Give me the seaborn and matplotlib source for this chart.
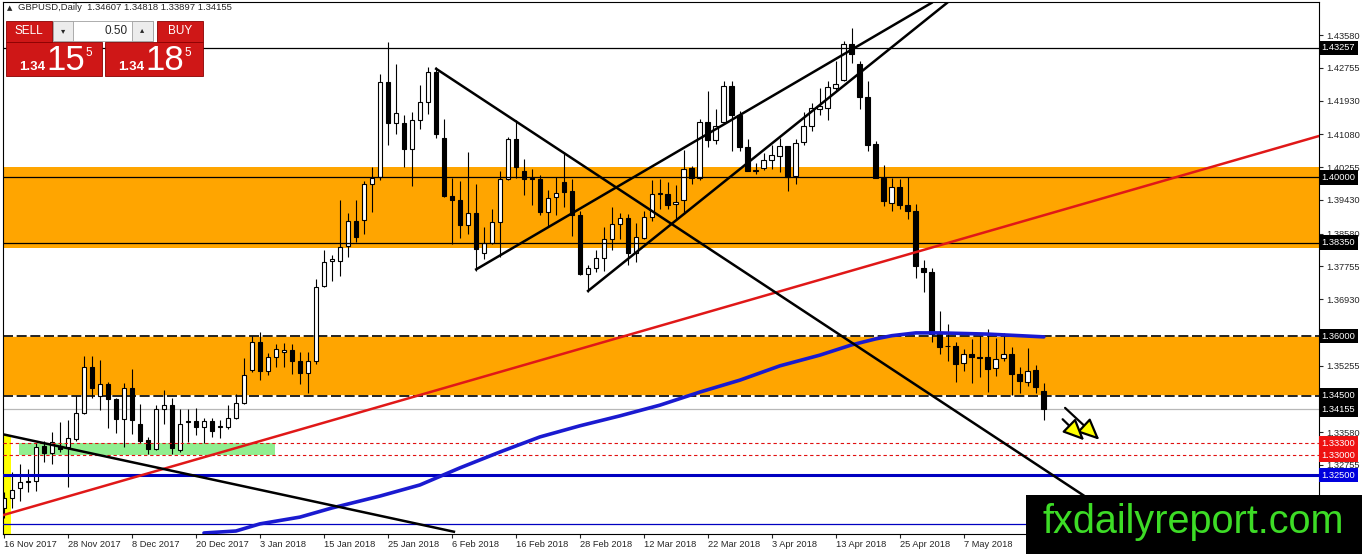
import numpy as np
import pandas as pd
import seaborn as sns
import matplotlib.pyplot as plt
from matplotlib.patches import Rectangle

# daily GBPUSD candles (bar 0 = 16 Nov 2017)
opens = [1.3168, 1.3192, 1.3217, 1.3232, 1.3236, 1.3322, 1.3306, 1.3322, 1.3320, 1.3341,
         1.3406, 1.3521, 1.3448, 1.3479, 1.3442, 1.3392, 1.3469, 1.3379, 1.3339, 1.3316,
         1.3417, 1.3427, 1.3312, 1.3383, 1.3385, 1.3372, 1.3386, 1.3371, 1.3371, 1.3394,
         1.3431, 1.3514, 1.3586, 1.3512, 1.3548, 1.3559, 1.3566, 1.3538, 1.3506, 1.3537,
         1.3727, 1.3789, 1.3790, 1.3828, 1.3890, 1.3893, 1.3984, 1.4000, 1.4241, 1.4136,
         1.4136, 1.4072, 1.4144, 1.4189, 1.4266, 1.4100, 1.3954, 1.3944, 1.3879, 1.3910,
         1.3809, 1.3835, 1.3887, 1.3995, 1.4096, 1.4015, 1.3998, 1.3995, 1.3912, 1.3950,
         1.3987, 1.3965, 1.3906, 1.3757, 1.3771, 1.3796, 1.3845, 1.3883, 1.3897, 1.3810,
         1.3847, 1.3901, 1.3958, 1.3959, 1.3933, 1.3944, 1.4023, 1.3997, 1.4139, 1.4095,
         1.4139, 1.4229, 1.4158, 1.4076, 1.4016, 1.4023, 1.4044, 1.4053, 1.4078, 1.4003,
         1.4089, 1.4128, 1.4173, 1.4175, 1.4225, 1.4246, 1.4336, 1.4285, 1.4201, 1.4084,
         1.3998, 1.3936, 1.3975, 1.3930, 1.3914, 1.3771, 1.3761, 1.3611, 1.3574, 1.3575,
         1.3533, 1.3555, 1.3547, 1.3547, 1.3519, 1.3544, 1.3555, 1.3505, 1.3485, 1.3515,
         1.34607]
highs = [1.3206, 1.3257, 1.3278, 1.3265, 1.3330, 1.3335, 1.3358, 1.3383, 1.3388, 1.3449,
         1.3549, 1.3549, 1.3539, 1.3485, 1.3445, 1.3483, 1.3518, 1.3430, 1.3347, 1.3426,
         1.3465, 1.3445, 1.3417, 1.3417, 1.3420, 1.3394, 1.3394, 1.3389, 1.3427, 1.3453,
         1.3544, 1.3600, 1.3611, 1.3558, 1.3581, 1.3583, 1.3581, 1.3560, 1.3560, 1.3744,
         1.3817, 1.3805, 1.3942, 1.3910, 1.3944, 1.3991, 1.4026, 1.4260, 1.4342, 1.4286,
         1.4157, 1.4165, 1.4233, 1.4277, 1.4277, 1.4148, 1.3997, 1.3991, 1.4064, 1.3984,
         1.3874, 1.3921, 1.4015, 1.4102, 1.4144, 1.4047, 1.4020, 1.4007, 1.3967, 1.4001,
         1.4064, 1.3995, 1.3914, 1.3779, 1.3816, 1.3875, 1.3925, 1.3911, 1.3908, 1.3885,
         1.3914, 1.3992, 1.3995, 1.3987, 1.3980, 1.4068, 1.4028, 1.4148, 1.4218, 1.4173,
         1.4242, 1.4243, 1.4168, 1.4097, 1.4036, 1.4061, 1.4081, 1.4099, 1.4080, 1.4097,
         1.4164, 1.4187, 1.4225, 1.4243, 1.4292, 1.4344, 1.4376, 1.4292, 1.4243, 1.4091,
         1.4032, 1.3997, 1.3995, 1.4000, 1.3933, 1.3792, 1.3771, 1.3664, 1.3631, 1.3584,
         1.3567, 1.3592, 1.3599, 1.3617, 1.3594, 1.3607, 1.3572, 1.3523, 1.3569, 1.3527,
         1.34818]
lows = [1.3143, 1.3168, 1.3185, 1.3206, 1.3211, 1.3282, 1.3278, 1.3307, 1.3219, 1.3335,
        1.3403, 1.3445, 1.3413, 1.3369, 1.3356, 1.3320, 1.3354, 1.3330, 1.3303, 1.3312,
        1.3379, 1.3302, 1.3307, 1.3333, 1.3350, 1.3330, 1.3345, 1.3344, 1.3366, 1.3391,
        1.3428, 1.3510, 1.3490, 1.3501, 1.3522, 1.3521, 1.3504, 1.3480, 1.3457, 1.3529,
        1.3724, 1.3740, 1.3752, 1.3800, 1.3836, 1.3856, 1.3912, 1.3994, 1.4081, 1.4110,
        1.4026, 1.3977, 1.4121, 1.4159, 1.4100, 1.3950, 1.3832, 1.3847, 1.3856, 1.3765,
        1.3794, 1.3832, 1.3799, 1.3992, 1.3997, 1.3956, 1.3929, 1.3904, 1.3875, 1.3904,
        1.3925, 1.3853, 1.3754, 1.3710, 1.3761, 1.3763, 1.3816, 1.3845, 1.3779, 1.3786,
        1.3845, 1.3891, 1.3921, 1.3921, 1.3894, 1.3908, 1.3982, 1.3994, 1.4076, 1.4084,
        1.4133, 1.4065, 1.4067, 1.4015, 1.4008, 1.4019, 1.4022, 1.4013, 1.3965, 1.3982,
        1.4082, 1.4117, 1.4158, 1.4145, 1.4221, 1.4242, 1.4288, 1.4173, 1.4067, 1.3997,
        1.3927, 1.3916, 1.3919, 1.3894, 1.3746, 1.3712, 1.3586, 1.3555, 1.3536, 1.3485,
        1.3513, 1.3483, 1.3496, 1.3458, 1.3500, 1.3538, 1.3452, 1.3456, 1.3474, 1.3456,
        1.33897]
closes = [1.3191, 1.3212, 1.3232, 1.3235, 1.3320, 1.3305, 1.3333, 1.3316, 1.3344, 1.3407,
          1.3522, 1.3468, 1.3479, 1.3442, 1.3392, 1.3469, 1.3389, 1.3335, 1.3316, 1.3417,
          1.3427, 1.3318, 1.3379, 1.3386, 1.3372, 1.3385, 1.3361, 1.3373, 1.3394, 1.3431,
          1.3501, 1.3586, 1.3512, 1.3548, 1.3567, 1.3566, 1.3538, 1.3506, 1.3538, 1.3723,
          1.3786, 1.3793, 1.3825, 1.3890, 1.3849, 1.3984, 1.3998, 1.4241, 1.4136, 1.4161,
          1.4072, 1.4144, 1.4189, 1.4264, 1.4110, 1.3954, 1.3944, 1.3879, 1.3910, 1.3820,
          1.3834, 1.3887, 1.3995, 1.4096, 1.4026, 1.3995, 1.3995, 1.3912, 1.3948, 1.3961,
          1.3963, 1.3904, 1.3757, 1.3771, 1.3796, 1.3845, 1.3883, 1.3897, 1.3810, 1.3849,
          1.3901, 1.3959, 1.3960, 1.3931, 1.3939, 1.4022, 1.3997, 1.4139, 1.4095, 1.4128,
          1.4231, 1.4156, 1.4076, 1.4017, 1.4018, 1.4044, 1.4057, 1.4078, 1.4000, 1.4086,
          1.4128, 1.4175, 1.4179, 1.4227, 1.4235, 1.4336, 1.4310, 1.4201, 1.4082, 1.3998,
          1.3940, 1.3975, 1.3930, 1.3914, 1.3777, 1.3762, 1.3605, 1.3572, 1.3576, 1.3530,
          1.3555, 1.3547, 1.3545, 1.3516, 1.3542, 1.3555, 1.3505, 1.3488, 1.3513, 1.3471,
          1.34155]

date_bars = list(range(0, 121, 8))
date_labels = ["16 Nov 2017", "28 Nov 2017", "8 Dec 2017", "20 Dec 2017", "3 Jan 2018",
               "15 Jan 2018", "25 Jan 2018", "6 Feb 2018", "16 Feb 2018", "28 Feb 2018",
               "12 Mar 2018", "22 Mar 2018", "3 Apr 2018", "13 Apr 2018", "25 Apr 2018",
               "7 May 2018"]

# moving average (blue curve) read at a few bars
ma_bars = [25, 29, 32, 37, 41, 47, 52, 57, 62, 67, 72, 77, 82, 87, 92, 97, 102, 106,
           109, 111, 114, 117, 123, 130]
ma_vals = [1.3104, 1.3109, 1.3127, 1.3144, 1.3167, 1.3197, 1.3225, 1.3268, 1.3308, 1.3346,
           1.3374, 1.3399, 1.3426, 1.3459, 1.3489, 1.3525, 1.3552, 1.3578, 1.3593, 1.3601,
           1.3608, 1.3608, 1.3605, 1.3598]

price_ticks = [1.43580, 1.42755, 1.41930, 1.41080, 1.40255, 1.39430, 1.38580, 1.37755,
               1.36930, 1.35255, 1.33580, 1.32755, 1.31930]
tag_levels = [1.43257, 1.40000, 1.38350, 1.36000, 1.34500, 1.34155, 1.33300, 1.33000, 1.32500]
tag_colors = ["black", "black", "black", "black", "black", "black", "#ee1111", "#ee1111", "#0000dd"]

# trend lines: (bar, price) end points
red_line = [(-0.125, 1.3149), (164.4, 1.4104)]
black_lines = [[(53.9, 1.4275), (138.25, 1.3155)],
               [(58.9, 1.37665), (116.1, 1.4441)],
               [(72.9, 1.37118), (118.0, 1.4441)],
               [(-0.125, 1.33526), (56.4, 1.31065)]]
arrows = [[(132.4, 1.34239), (137.2, 1.33340)],
          [(132.1, 1.33954), (135.3, 1.33325)]]

W, H = 1362, 554
sns.set_style("white")
plt.rcParams["font.family"] = ["Liberation Sans", "DejaVu Sans"]

fig = plt.figure(figsize=(W / 100, H / 100), dpi=100)
ax = fig.add_axes([3 / W, (H - 533.5) / H, 1316 / W, (533.5 - 2.3) / H])
ax.set_xlim(-0.125, 164.4)
ax.set_ylim(1.31027, 1.44408)

# zones
ax.axhspan(1.3822, 1.4026, color="#ffa500", lw=0, zorder=0)
ax.axhspan(1.3450, 1.3600, color="#ffa500", lw=0, zorder=0)
ax.add_patch(Rectangle((1.875, 1.3300), 32.0, 0.0030, color="#90ee90", lw=0, zorder=0.5))
ax.add_patch(Rectangle((-0.125, 1.3100), 1.0, 0.0251, color="#ffff00", lw=0, zorder=0.5))

# candles
df = pd.DataFrame({"o": opens, "h": highs, "l": lows, "c": closes})
df["i"] = np.arange(len(df))
up = df.c >= df.o
ax.vlines(df.i, df.l, df.h, color="black", lw=0.8, zorder=2)
ax.bar(df.i, (df.c - df.o).abs().clip(lower=0.00004), bottom=df[["o", "c"]].min(axis=1),
       width=0.6, color=np.where(up, "white", "black"), edgecolor="black", lw=0.8, zorder=2.1)

# horizontal levels
for y in [1.43257, 1.40000, 1.38350]:
    ax.axhline(y, color="black", lw=0.9, zorder=3)
for y in [1.3600, 1.3450]:
    ax.axhline(y, color="white", lw=1.2, zorder=1.5)
    ax.axhline(y, color="black", lw=1.2, ls=(0, (6, 2.2)), zorder=1.6)
ax.axhline(1.34155, color="#b8b8b8", lw=0.9, zorder=1.5)
for y in [1.3330, 1.3300]:
    ax.axhline(y, color="#e01010", lw=0.8, ls=(0, (3, 2.5)), zorder=3)
ax.axhline(1.3250, color="#0000c0", lw=2.2, zorder=3)
ax.axhline(1.3127, color="#0000c0", lw=0.9, zorder=3)

# trend lines and MA
sns.lineplot(x=ma_bars, y=ma_vals, ax=ax, color="#1a1ad0", lw=2.6, zorder=3)
ax.plot(*zip(*red_line), color="#e01818", lw=1.8, zorder=3)
for seg in black_lines:
    ax.plot(*zip(*seg), color="black", lw=1.8, zorder=3, solid_capstyle="butt")
for (x0, y0), (x1, y1) in arrows:
    ax.annotate("", xy=(x1, y1), xytext=(x0, y0),
                arrowprops=dict(arrowstyle="-|>,head_length=1.0,head_width=0.45",
                                fc="#ffff00", ec="black", lw=1.6, mutation_scale=13),
                zorder=4)

# axes styling
for s in ax.spines.values():
    s.set_color("black")
    s.set_linewidth(0.8)
ax.yaxis.tick_right()
ax.set_yticks(price_ticks)
ax.set_yticklabels([f"{v:.5f}" for v in price_ticks])
ax.tick_params(axis="y", direction="out", length=3, width=0.8, pad=2, labelsize=6.7,
               right=True, left=False)
ax.set_xticks(date_bars)
ax.set_xticklabels(date_labels, ha="left")
ax.tick_params(axis="x", direction="out", length=3, width=0.8, pad=1.5, labelsize=6.7,
               bottom=True)
ax.set_xlabel("")
ax.set_ylabel("")

tr = ax.get_yaxis_transform()
for y, c in zip(tag_levels, tag_colors):
    ax.text(1.0018, y, f"{y:.5f}", transform=tr, ha="left", va="center", fontsize=6.7,
            color="white", clip_on=False, zorder=6,
            bbox=dict(boxstyle="square,pad=0.3", fc=c, ec="none"))


def frect(x0, y0, x1, y1, **kw):
    fig.add_artist(Rectangle((x0 / W, 1 - y1 / H), (x1 - x0) / W, (y1 - y0) / H,
                             transform=fig.transFigure, **kw))


def ftext(x, y, s, **kw):
    fig.text(x / W, 1 - y / H, s, **kw)


# header and trade panel
ftext(7, 8, "\u25b2", fontsize=5, ha="left", va="center", family="DejaVu Sans")
ftext(18, 8, "GBPUSD,Daily  1.34607 1.34818 1.33897 1.34155", fontsize=6.8, ha="left", va="center")
red = "#cf1717"
frect(6, 21, 52, 42, fc=red, ec="#8a0000", lw=0.6)
frect(157, 21, 203, 42, fc=red, ec="#8a0000", lw=0.6)
ftext(29, 31.5, "SELL", fontsize=8.5, color="white", ha="center", va="center")
ftext(180, 31.5, "BUY", fontsize=8.5, color="white", ha="center", va="center")
frect(53, 21, 153, 41, fc="white", ec="#a0a0a0", lw=0.6)
frect(53, 21, 73, 41, fc="#ececec", ec="#a0a0a0", lw=0.6)
frect(132, 21, 153, 41, fc="#ececec", ec="#a0a0a0", lw=0.6)
ftext(63, 31, "\u25be", fontsize=6, ha="center", va="center", family="DejaVu Sans")
ftext(142.5, 30, "\u25b4", fontsize=6, ha="center", va="center", family="DejaVu Sans")
ftext(128, 31, "0.50", fontsize=8.5, ha="right", va="center")
frect(6, 42, 102, 76, fc=red, ec="#8a0000", lw=0.6)
frect(105, 42, 203, 76, fc=red, ec="#8a0000", lw=0.6)
for x0, big in [(6, "15"), (105, "18")]:
    ftext(x0 + 26, 67, "1.34", fontsize=9.5, weight="bold", color="white", ha="center", va="center")
    ftext(x0 + 60, 60, big, fontsize=25, color="white", ha="center", va="center")
    ftext(x0 + 83, 53, "5", fontsize=8.5, color="white", ha="center", va="center")

# watermark
frect(1026, 495, 1362, 554, fc="black", ec="none", zorder=5)
ftext(1193, 522, "fxdailyreport.com", fontsize=28.5, color="#3ddc26", ha="center",
      va="center", zorder=6)

fig.savefig("out.png", dpi=100)
